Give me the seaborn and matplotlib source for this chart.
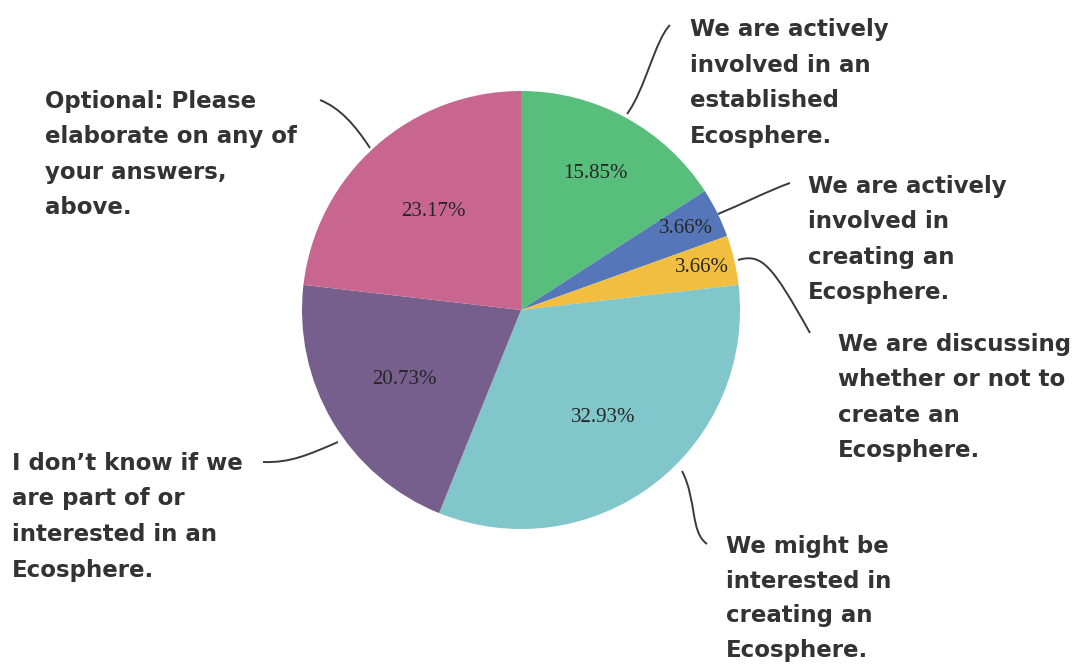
import matplotlib
matplotlib.use("Agg")
import matplotlib.pyplot as plt
import numpy as np
import seaborn as sns
from matplotlib.path import Path
from matplotlib.patches import PathPatch

sns.set_theme(style="white")

# Survey answers, in clockwise order from 12 o'clock
categories = [
    "We are actively\ninvolved in an\nestablished\nEcosphere.",
    "We are actively\ninvolved in\ncreating an\nEcosphere.",
    "We are discussing\nwhether or not to\ncreate an\nEcosphere.",
    "We might be\ninterested in\ncreating an\nEcosphere.",
    "I don\u2019t know if we\nare part of or\ninterested in an\nEcosphere.",
    "Optional: Please\nelaborate on any of\nyour answers,\nabove.",
]
shares = [15.85, 3.66, 3.66, 32.93, 20.73, 23.17]
pct_labels = ["15.85%", "3.66%", "3.66%", "32.93%", "20.73%", "23.17%"]

colors = sns.color_palette(["#58be7b", "#5576b8", "#f1be3f", "#80c6cb", "#775f8d", "#c8668f"])

W, H = 1078, 665
fig = plt.figure(figsize=(W / 100, H / 100), dpi=100)
ax = fig.add_axes([0, 0, 1, 1])


def py(y):
    # pixel rows run downward, data y runs upward
    return H - y


cx, cy, R = 521, 310, 219
wedges, _ = ax.pie(shares, colors=colors, startangle=90, counterclock=False,
                   center=(cx, py(cy)), radius=R, frame=True,
                   wedgeprops=dict(linewidth=0))
ax.set_xlim(0, W)
ax.set_ylim(0, H)
ax.set_aspect("equal")
ax.axis("off")

# radial placement of the percentage text within each wedge
label_r = [0.71, 0.84, 0.85, 0.62, 0.62, 0.60]
for w, txt, rf in zip(wedges, pct_labels, label_r):
    mid = np.deg2rad((w.theta1 + w.theta2) / 2)
    ax.text(cx + rf * R * np.cos(mid), py(cy) + rf * R * np.sin(mid), txt,
            ha="center", va="center", fontsize=15, color="#262626",
            family="Liberation Serif")

# callout text blocks: left edge, baseline of the first line, line step
text_pos = [(690, 36, 35.5), (808, 193, 35.5), (838, 351, 35.5),
            (726, 553, 34.5), (12, 470, 35.5), (45, 108, 35.5)]
for lab, (x, y, step) in zip(categories, text_pos):
    for i, line in enumerate(lab.split("\n")):
        ax.text(x, py(y + i * step), line, ha="left", va="baseline",
                fontsize=16.5, color="#333333", family="DejaVu Sans",
                fontweight="bold")

# curved leader lines (cubic Bezier: start, ctrl1, ctrl2, end)
leaders = [
    [(627, 114), (645, 90), (655, 40), (670, 25)],
    [(718, 214), (740, 205), (770, 190), (790, 183)],
    [(738, 260), (762, 253), (772, 265), (810, 333)],
    [(682, 471), (697, 500), (690, 532), (707, 544)],
    [(338, 442), (308, 455), (290, 463), (263, 462)],
    [(370, 148), (355, 125), (340, 108), (320, 100)],
]
for pts in leaders:
    verts = [(x, py(y)) for x, y in pts]
    path = Path(verts, [Path.MOVETO, Path.CURVE4, Path.CURVE4, Path.CURVE4])
    ax.add_patch(PathPatch(path, facecolor="none", edgecolor="#3a3a3a", lw=1.4))

fig.savefig("out.png", dpi=100, facecolor="white")
